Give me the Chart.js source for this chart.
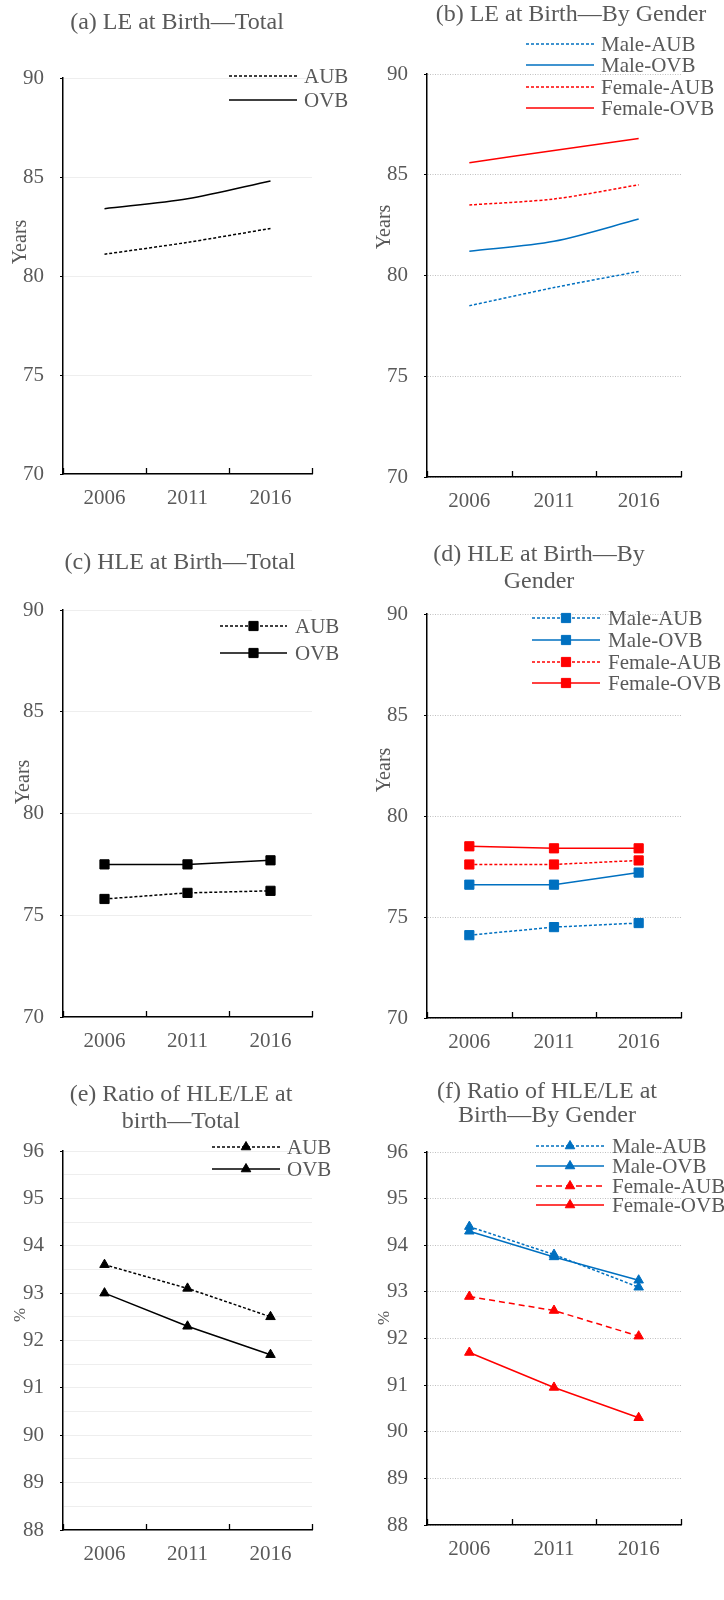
<!DOCTYPE html>
<html>
<head>
<meta charset="utf-8">
<script src="https://cdn.jsdelivr.net/npm/chart.js"></script>
<style>
body { margin: 0; background: #fff; }
#wrap { position: relative; width: 724px; height: 1600px; }
canvas { position: absolute; }
</style>
</head>
<body>
<div id="wrap">
<canvas id="ca" width="362" height="525" style="left:0;top:0"></canvas>
<canvas id="cb" width="362" height="525" style="left:362px;top:0"></canvas>
<canvas id="cc" width="362" height="540" style="left:0;top:525px"></canvas>
<canvas id="cd" width="362" height="540" style="left:362px;top:525px"></canvas>
<canvas id="ce" width="362" height="535" style="left:0;top:1065px"></canvas>
<canvas id="cf" width="362" height="535" style="left:362px;top:1065px"></canvas>
</div>
<script>
const years = ['2006', '2011', '2016'];

// (a) LE at birth, total
const leAUB = [81.1, 81.7, 82.4];
const leOVB = [83.4, 83.9, 84.8];
// (b) LE at birth, by gender
const leMaleAUB = [78.5, 79.4, 80.2];
const leMaleOVB = [81.2, 81.7, 82.8];
const leFemaleAUB = [83.5, 83.8, 84.5];
const leFemaleOVB = [85.6, 86.2, 86.8];
// (c) HLE at birth, total
const hleAUB = [75.8, 76.1, 76.2];
const hleOVB = [77.5, 77.5, 77.7];
// (d) HLE at birth, by gender
const hleMaleAUB = [74.1, 74.5, 74.7];
const hleMaleOVB = [76.6, 76.6, 77.2];
const hleFemaleAUB = [77.6, 77.6, 77.8];
const hleFemaleOVB = [78.5, 78.4, 78.4];
// (e) ratio HLE/LE, total
const ratioAUB = [93.6, 93.1, 92.5];
const ratioOVB = [93.0, 92.3, 91.7];
// (f) ratio HLE/LE, by gender
const ratioMaleAUB = [94.4, 93.8, 93.1];
const ratioMaleOVB = [94.3, 93.75, 93.25];
const ratioFemaleAUB = [92.9, 92.6, 92.05];
const ratioFemaleOVB = [91.7, 90.95, 90.3];

const yearsRange = [70, 90];
const ratioRange = [88, 96];

const BLUE = '#0070C0', RED = '#FF0000', BLACK = '#000000';
const TEXT = '#595959';
const FONT = '"Liberation Serif", "Times New Roman", serif';

function series(label, data, color, dash, marker, tension) {
  return {
    label: label,
    data: data,
    borderColor: color,
    backgroundColor: color,
    borderWidth: 1.5,
    borderDash: dash,
    tension: tension || 0,
    pointStyle: marker || 'circle',
    pointRadius: marker ? (marker === 'rect' ? 6.5 : 5.5) : 0,
    pointBackgroundColor: color,
    pointBorderColor: color,
    pointBorderWidth: 1
  };
}

const panels = {};

const panelText = {
  id: 'panelText',
  afterDraw(chart) {
    const o = panels[chart.canvas.id];
    if (!o) return;
    const ctx = chart.ctx;
    ctx.save();
    ctx.fillStyle = TEXT;
    ctx.textAlign = 'center';
    ctx.textBaseline = 'middle';
    ctx.font = '24px ' + FONT;
    o.title.forEach((t, i) => ctx.fillText(t, o.titleX, o.titleY[i]));

    ctx.save();
    ctx.translate(o.axisX, o.axisY);
    ctx.rotate(-Math.PI / 2);
    ctx.font = o.axisSize + 'px ' + FONT;
    ctx.fillText(o.axisTitle, 0, 0);
    ctx.restore();

    // inward tick marks on the category axis
    const xs = chart.scales.x, bottom = chart.chartArea.bottom;
    ctx.strokeStyle = BLACK;
    ctx.lineWidth = 1.3;
    for (let i = 0; i <= chart.data.labels.length; i++) {
      const px = Math.round(xs.getPixelForValue(i - 0.5)) + 0.5;
      ctx.beginPath();
      ctx.moveTo(px, bottom);
      ctx.lineTo(px, bottom - 6);
      ctx.stroke();
    }

    // legend
    const lg = o.legend;
    ctx.font = '21px ' + FONT;
    ctx.textAlign = 'left';
    chart.data.datasets.forEach((ds, i) => {
      const y = lg.ys[i];
      ctx.save();
      ctx.strokeStyle = ds.borderColor;
      ctx.lineWidth = ds.borderWidth;
      ctx.setLineDash(ds.borderDash || []);
      ctx.beginPath();
      ctx.moveTo(lg.x0, y);
      ctx.lineTo(lg.x1, y);
      ctx.stroke();
      ctx.setLineDash([]);
      if (ds.pointRadius) {
        ctx.fillStyle = ds.pointBackgroundColor;
        ctx.strokeStyle = ds.pointBorderColor;
        ctx.lineWidth = 1;
        Chart.helpers.drawPoint(ctx, {pointStyle: ds.pointStyle, radius: ds.pointRadius, rotation: 0, borderWidth: 1}, (lg.x0 + lg.x1) / 2, y);
      }
      ctx.restore();
      ctx.fillText(ds.label, lg.tx, y + 1);
    });
    ctx.restore();
  }
};

function makeChart(id, datasets, o) {
  panels[id] = o;
  const half = o.halfGrid;
  new Chart(document.getElementById(id), {
    type: 'line',
    data: { labels: years, datasets: datasets },
    plugins: [panelText],
    options: {
      responsive: false,
      animation: false,
      layout: { padding: { top: o.box.T, right: o.box.R, left: 0, bottom: 0 } },
      plugins: { legend: { display: false }, tooltip: { enabled: false } },
      scales: {
        x: {
          offset: true,
          grid: { display: false, drawTicks: false },
          border: { display: true, color: BLACK, width: 1.5 },
          ticks: { color: TEXT, font: { family: FONT, size: 21 }, padding: 12, maxRotation: 0, autoSkip: false },
          afterFit: (s) => { s.height = o.box.H; }
        },
        y: {
          min: o.range[0],
          max: o.range[1],
          grid: {
            color: o.gridColor,
            lineWidth: 1,
            tickLength: 3,
            tickColor: (c) => Number.isInteger(c.tick.value) ? BLACK : 'rgba(0,0,0,0)'
          },
          border: { display: true, color: BLACK, width: 1.5, dash: o.gridDash },
          ticks: {
            stepSize: half ? 0.5 : o.step,
            autoSkip: false,
            padding: 16,
            color: TEXT,
            font: { family: FONT, size: 21 },
            callback: (v) => Number.isInteger(v) ? v : ''
          },
          afterFit: (s) => { s.width = o.box.L; }
        }
      }
    }
  });
}

const faint = '#eeeeee', dotted = '#c0c0c0';
const dot = [1, 1.5];

makeChart('ca', [
  series('AUB', leAUB, BLACK, [3, 2], null, 0.3),
  series('OVB', leOVB, BLACK, [], null, 0.3)
], {
  box: { L: 63, R: 50, T: 78, H: 51 }, range: yearsRange, step: 5, gridColor: faint, gridDash: [],
  title: ['(a) LE at Birth—Total'], titleX: 177, titleY: [23],
  axisTitle: 'Years', axisX: 21, axisY: 242, axisSize: 20,
  legend: { x0: 229, x1: 297, tx: 304, ys: [76, 100] }
});

makeChart('cb', [
  series('Male-AUB', leMaleAUB, BLUE, [3, 2], null, 0.3),
  series('Male-OVB', leMaleOVB, BLUE, [], null, 0.3),
  series('Female-AUB', leFemaleAUB, RED, [3, 2], null, 0.3),
  series('Female-OVB', leFemaleOVB, RED, [], null, 0.3)
], {
  box: { L: 65, R: 43, T: 74, H: 48 }, range: yearsRange, step: 5, gridColor: dotted, gridDash: dot,
  title: ['(b) LE at Birth—By Gender'], titleX: 209, titleY: [15],
  axisTitle: 'Years', axisX: 23, axisY: 227, axisSize: 20,
  legend: { x0: 164, x1: 232, tx: 239, ys: [44, 65, 87, 108] }
});

makeChart('cc', [
  series('AUB', hleAUB, BLACK, [3, 2], 'rect'),
  series('OVB', hleOVB, BLACK, [], 'rect')
], {
  box: { L: 63, R: 50, T: 85, H: 48 }, range: yearsRange, step: 5, gridColor: faint, gridDash: [],
  title: ['(c) HLE at Birth—Total'], titleX: 180, titleY: [38],
  axisTitle: 'Years', axisX: 24, axisY: 257, axisSize: 20,
  legend: { x0: 220, x1: 287, tx: 295, ys: [101, 128] }
});

makeChart('cd', [
  series('Male-AUB', hleMaleAUB, BLUE, [3, 2], 'rect'),
  series('Male-OVB', hleMaleOVB, BLUE, [], 'rect'),
  series('Female-AUB', hleFemaleAUB, RED, [3, 2], 'rect'),
  series('Female-OVB', hleFemaleOVB, RED, [], 'rect')
], {
  box: { L: 65, R: 43, T: 89, H: 47 }, range: yearsRange, step: 5, gridColor: dotted, gridDash: dot,
  title: ['(d) HLE at Birth—By', 'Gender'], titleX: 177, titleY: [30, 57],
  axisTitle: 'Years', axisX: 23, axisY: 245, axisSize: 20,
  legend: { x0: 170, x1: 238, tx: 246, ys: [93, 115, 137, 158] }
});

makeChart('ce', [
  series('AUB', ratioAUB, BLACK, [3, 2], 'triangle'),
  series('OVB', ratioOVB, BLACK, [], 'triangle')
], {
  box: { L: 63, R: 50, T: 86, H: 70 }, range: ratioRange, step: 1, halfGrid: true, gridColor: faint, gridDash: [],
  title: ['(e) Ratio of HLE/LE at', 'birth—Total'], titleX: 181, titleY: [30, 57],
  axisTitle: '%', axisX: 21, axisY: 250, axisSize: 17,
  legend: { x0: 212, x1: 280, tx: 287, ys: [82, 104] }
});

makeChart('cf', [
  series('Male-AUB', ratioMaleAUB, BLUE, [3, 2], 'triangle'),
  series('Male-OVB', ratioMaleOVB, BLUE, [], 'triangle'),
  series('Female-AUB', ratioFemaleAUB, RED, [6, 4], 'triangle'),
  series('Female-OVB', ratioFemaleOVB, RED, [], 'triangle')
], {
  box: { L: 65, R: 43, T: 87, H: 75 }, range: ratioRange, step: 1, gridColor: dotted, gridDash: dot,
  title: ['(f) Ratio of HLE/LE at', 'Birth—By Gender'], titleX: 185, titleY: [27, 51],
  axisTitle: '%', axisX: 23, axisY: 253, axisSize: 17,
  legend: { x0: 174, x1: 242, tx: 250, ys: [81, 101, 121, 140] }
});
</script>
</body>
</html>
